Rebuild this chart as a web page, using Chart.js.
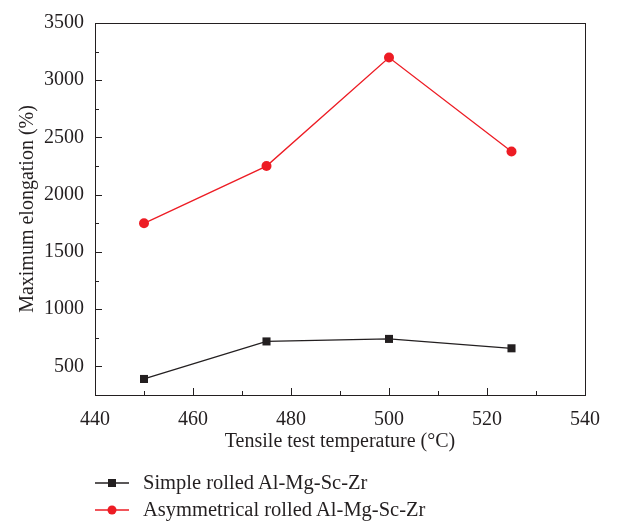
<!DOCTYPE html>
<html>
<head>
<meta charset="utf-8">
<script src="https://cdn.jsdelivr.net/npm/chart.js@4"></script>
<style>
  body { margin: 0; background: #fff; }
  #wrap { position: relative; width: 627px; height: 521px; }
  #legend { position: absolute; left: 95px; top: 469px; font-family: "Liberation Serif", "DejaVu Serif", serif; font-size: 20.5px; color: #231f20; }
  .row { display: flex; align-items: center; height: 27px; }
  .row svg { margin-right: 14px; }
</style>
</head>
<body>
<div id="wrap">
  <canvas id="grafico" width="627" height="521"></canvas>
  <div id="legend"></div>
</div>
<script>
const temperaturas = [450, 475, 500, 525];
const simple = [390, 718, 740, 658];
const asimetrico = [1750, 2250, 3198, 2377];
const nombres = ["Simple rolled Al-Mg-Sc-Zr", "Asymmetrical rolled Al-Mg-Sc-Zr"];
const colores = ["#231f20", "#ed1c24"];
const fuente = "'Liberation Serif', 'DejaVu Serif', serif";

// ticks hacia dentro + marco
const marco = {
  id: "marco",
  afterDraw(chart) {
    const ctx = chart.ctx;
    const a = chart.chartArea;
    ctx.save();
    ctx.strokeStyle = "#231f20";
    ctx.lineWidth = 1;
    ctx.strokeRect(Math.round(a.left) + 0.5, Math.round(a.top) + 0.5, Math.round(a.right - a.left), Math.round(a.bottom - a.top));
    const x = chart.scales.x;
    x.ticks.forEach((t) => {
      const px = Math.round(x.getPixelForValue(t.value)) + 0.5;
      const len = t.value % 20 === 0 ? 7 : 4;
      ctx.beginPath();
      ctx.moveTo(px, a.bottom);
      ctx.lineTo(px, a.bottom - len);
      ctx.stroke();
    });
    const y = chart.scales.y;
    y.ticks.forEach((t) => {
      const py = Math.round(y.getPixelForValue(t.value)) + 0.5;
      const len = t.value % 500 === 0 ? 7 : 4;
      ctx.beginPath();
      ctx.moveTo(a.left, py);
      ctx.lineTo(a.left + len, py);
      ctx.stroke();
    });
    ctx.restore();
  },
};

new Chart(document.getElementById("grafico"), {
  type: "line",
  data: {
    datasets: [
      {
        label: nombres[0],
        data: temperaturas.map((t, i) => ({ x: t, y: simple[i] })),
        borderColor: colores[0],
        backgroundColor: colores[0],
        borderWidth: 1.3,
        pointStyle: "rect",
        pointRadius: 5.7,
        pointBorderWidth: 0,
      },
      {
        label: nombres[1],
        data: temperaturas.map((t, i) => ({ x: t, y: asimetrico[i] })),
        borderColor: colores[1],
        backgroundColor: colores[1],
        borderWidth: 1.3,
        pointStyle: "circle",
        pointRadius: 5,
        pointBorderWidth: 0,
      },
    ],
  },
  options: {
    responsive: false,
    animation: false,
    layout: { padding: { left: 0, right: 42, top: 19, bottom: 66 } },
    plugins: { legend: { display: false }, tooltip: { enabled: false } },
    scales: {
      x: {
        type: "linear",
        min: 440,
        max: 540,
        grid: { display: false, drawTicks: false },
        border: { display: false },
        ticks: {
          stepSize: 10,
          padding: 13,
          color: "#231f20",
          font: { family: fuente, size: 20 },
          callback: (v) => (v % 20 === 0 ? v : ""),
          autoSkip: false,
          maxRotation: 0,
        },
        title: {
          display: true,
          text: "Tensile test temperature (°C)",
          color: "#231f20",
          font: { family: fuente, size: 20 },
          padding: { top: 0, bottom: 1 },
        },
        afterFit: (s) => { s.height = 60; },
      },
      y: {
        min: 250,
        max: 3500,
        grid: { display: false, drawTicks: false },
        border: { display: false },
        ticks: {
          stepSize: 250,
          padding: 11,
          color: "#231f20",
          font: { family: fuente, size: 20 },
          callback: (v) => (v % 500 === 0 ? v : ""),
          autoSkip: false,
        },
        title: {
          display: true,
          text: "Maximum elongation (%)",
          color: "#231f20",
          font: { family: fuente, size: 20 },
          padding: { top: 16, bottom: 4 },
        },
        afterFit: (s) => { s.width = 95; },
      },
    },
  },
  plugins: [marco],
});

// leyenda html
const leyenda = document.getElementById("legend");
nombres.forEach((n, i) => {
  const marca = i === 0
    ? `<rect x="13" y="5" width="8" height="8" fill="${colores[i]}"/>`
    : `<circle cx="17" cy="9" r="4.5" fill="${colores[i]}"/>`;
  leyenda.innerHTML += `<div class="row"><svg width="34" height="18"><line x1="0" y1="9" x2="34" y2="9" stroke="${colores[i]}" stroke-width="1.5"/>${marca}</svg><span>${n}</span></div>`;
});
</script>
</body>
</html>
